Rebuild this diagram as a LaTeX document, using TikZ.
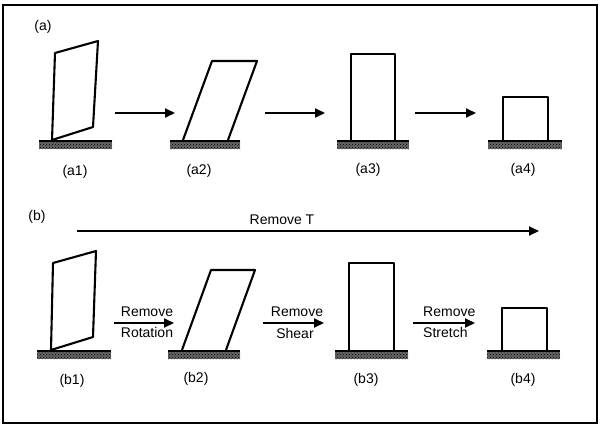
\documentclass[tikz,border=0pt]{standalone}
\usepackage{fontspec}
\setmainfont{Liberation Sans}
\usetikzlibrary{arrows.meta,patterns}
\begin{document}
\begin{tikzpicture}[x=1pt,y=-1pt,
  lbl/.style={inner sep=0pt,font=\fontsize{14}{16}\selectfont},
  shapeln/.style={draw=black,line width=2.1pt,line join=round},
  arr/.style={line width=2pt,-{Triangle[length=10pt,width=9pt]}},
  frameln/.style={draw=black,line width=1.4pt}]
\useasboundingbox (0,0) rectangle (603,434);
\draw[frameln] (3,5) rectangle (597,423);
% ground bar macro
\newcommand{\groundbar}[3]{%
  \fill[black!60] (#1,#3) rectangle (#2,#3+9);
  \fill[pattern=crosshatch dots,pattern color=black] (#1,#3) rectangle (#2,#3+9);
  \draw[line width=1.8pt] (#1,#3+0.9) -- (#2,#3+0.9);}
% ---------- (a) row ----------
\node[lbl] (la) at (43,27) {(a)};
\groundbar{39}{112}{140}
\groundbar{170}{240}{140}
\groundbar{337}{409}{140}
\groundbar{488}{562}{140}
\draw[shapeln] (52,140) -- (93,127) -- (98,41) -- (55,53) -- cycle;
\draw[shapeln] (183,140) -- (212,61) -- (257,61) -- (228,140);
\draw[shapeln] (351,140) -- (351,54) -- (395,54) -- (395,140);
\draw[shapeln] (503,140) -- (503,97) -- (548,97) -- (548,140);
\node[lbl] (a1) at (75,172) {(a1)};
\node[lbl] (a2) at (199,171) {(a2)};
\node[lbl] (a3) at (368,170) {(a3)};
\node[lbl] (a4) at (523,170) {(a4)};
\coordinate (a1e) at (115,113);
\coordinate (a2s) at (175,113);
\coordinate (a2e) at (265,113);
\coordinate (a3s) at (325,113);
\coordinate (a3e) at (415,113);
\coordinate (a4s) at (476,113);
\draw[arr] (a1e) -- (a2s);
\draw[arr] (a2e) -- (a3s);
\draw[arr] (a3e) -- (a4s);
% ---------- (b) row ----------
\node[lbl] (lb) at (37,217) {(b)};
\coordinate (ts) at (77,231);
\coordinate (te) at (539,231);
\draw[arr] (ts) -- (te);
\node[lbl] (rt) at (282,220) {Remove T};
\groundbar{37}{111}{350}
\groundbar{168}{240}{350}
\groundbar{335}{408}{350}
\groundbar{487}{560}{350}
\draw[shapeln] (51,350) -- (93,337) -- (96,251) -- (53,263) -- cycle;
\draw[shapeln] (182,350) -- (211,270) -- (255,270) -- (226,350);
\draw[shapeln] (349,350) -- (349,263) -- (394,263) -- (394,350);
\draw[shapeln] (502,350) -- (502,308) -- (547,308) -- (547,350);
\node[lbl] (b1) at (72,381) {(b1)};
\node[lbl] (b2) at (196,379) {(b2)};
\node[lbl] (b3) at (366,380) {(b3)};
\node[lbl] (b4) at (523,380) {(b4)};
\coordinate (b1e) at (114,323);
\coordinate (b2s) at (174,323);
\coordinate (b2e) at (263,323);
\coordinate (b3s) at (324,323);
\coordinate (b3e) at (413,323);
\coordinate (b4s) at (475,323);
\draw[arr] (b1e) -- (b2s);
\draw[arr] (b2e) -- (b3s);
\draw[arr] (b3e) -- (b4s);
\node[lbl] (r1) at (147,312) {Remove};
\node[lbl] (r1b) at (147,332) {Rotation};
\node[lbl] (r2) at (297,312) {Remove};
\node[lbl] (r2b) at (295,333) {Shear};
\node[lbl,anchor=west] (r3) at (423,312) {Remove};
\node[lbl,anchor=west] (r3b) at (423,332) {Stretch};
\end{tikzpicture}
\end{document}
